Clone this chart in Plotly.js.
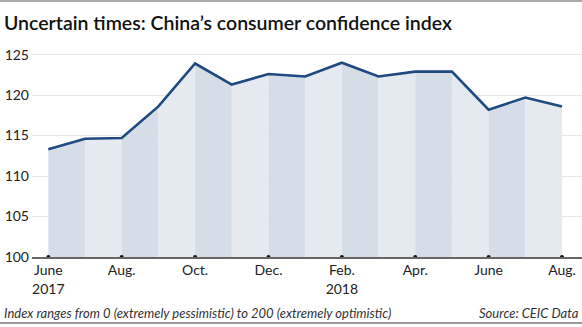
<!DOCTYPE html>
<html><head><meta charset="utf-8">
<script src="https://cdn.plot.ly/plotly-3.0.1.min.js"></script>
<style>html,body{margin:0;padding:0;background:#fff;}#chart{width:582px;height:327px;}</style>
</head><body><div id="chart"></div>
<script>
// Data
var months = ["Jun 2017","Jul 2017","Aug 2017","Sep 2017","Oct 2017","Nov 2017","Dec 2017","Jan 2018","Feb 2018","Mar 2018","Apr 2018","May 2018","Jun 2018","Jul 2018","Aug 2018"];
var cci = [113.3, 114.6, 114.7, 118.6, 123.9, 121.3, 122.6, 122.3, 124.0, 122.3, 122.9, 122.9, 118.2, 119.7, 118.6];
var tickIdx = [0, 2, 4, 6, 8, 10, 12, 14];
var tickLabels = ["June<br>2017", "Aug.", "Oct.", "Dec.", "Feb.<br>2018", "Apr.", "June", "Aug."];
var yTicks = [100, 105, 110, 115, 120, 125];

var xIdx = months.map(function(_, i){ return i; });
var traces = [];
var darkFill = "#d5dde7", lightFill = "#e5e9f0";
for (var i = 0; i < cci.length - 1; i++) {
  traces.push({
    x: [xIdx[i], xIdx[i+1]], y: [cci[i], cci[i+1]],
    type: "scatter", mode: "lines", fill: "tozeroy",
    fillcolor: (i % 2 === 0) ? darkFill : lightFill,
    line: {width: 0, color: "rgba(0,0,0,0)"},
    hoverinfo: "skip", showlegend: false
  });
}
traces.push({
  x: xIdx, y: cci, type: "scatter", mode: "lines",
  line: {color: "#1d4a80", width: 2.6}, showlegend: false
});
traces.push({
  x: tickIdx, y: tickIdx.map(function(){ return 100; }),
  type: "scatter", mode: "markers", cliponaxis: false,
  marker: {color: "#111", size: 4}, showlegend: false, hoverinfo: "skip"
});

var H = 204;
function py(pixelY){ return 1 - (pixelY - 53) / H; }

var layout = {
  width: 582, height: 327,
  margin: {l: 32, r: 0, t: 53, b: 70},
  paper_bgcolor: "#fff", plot_bgcolor: "#fff",
  font: {family: "Lato, 'Open Sans', sans-serif", color: "#222"},
  showlegend: false,
  xaxis: {
    range: [-0.445, 14.545], tickvals: tickIdx, ticktext: tickLabels,
    showgrid: false, zeroline: false, showline: true, linecolor: "#666", linewidth: 1.5,
    ticks: "", tickfont: {size: 14, color: "#222"}, fixedrange: true
  },
  yaxis: {
    range: [100, 125.2], tickvals: yTicks, showgrid: true, gridcolor: "#e6e6e6", gridwidth: 1,
    zeroline: false, showline: false, ticks: "", ticklabelstandoff: 2,
    tickfont: {size: 14, color: "#222"}, fixedrange: true
  },
  shapes: [
    {type: "line", xref: "paper", yref: "paper", x0: -0.06, x1: 1, y0: py(1), y1: py(1), line: {color: "#aaa", width: 2}},
    {type: "line", xref: "paper", yref: "paper", x0: -0.06, x1: 1, y0: py(323), y1: py(323), line: {color: "#999", width: 2}}
  ],
  annotations: [
    {text: "Uncertain times: China\u2019s consumer confidence index", xref: "paper", yref: "paper",
     x: -0.054, y: py(22), xanchor: "left", yanchor: "middle", showarrow: false,
     font: {size: 19.5, color: "#111", family: "Lato, sans-serif", weight: 600}},
    {text: "<i>Index ranges from 0 (extremely pessimistic) to 200 (extremely optimistic)</i>", xref: "paper", yref: "paper",
     x: -0.054, y: py(313), xanchor: "left", yanchor: "middle", showarrow: false,
     font: {size: 13, color: "#333"}},
    {text: "<i>Source: CEIC Data</i>", xref: "paper", yref: "paper",
     x: 0.998, y: py(313), xanchor: "right", yanchor: "middle", showarrow: false,
     font: {size: 13, color: "#333"}}
  ]
};
Plotly.newPlot("chart", traces, layout, {displayModeBar: false, staticPlot: true});
</script></body></html>
